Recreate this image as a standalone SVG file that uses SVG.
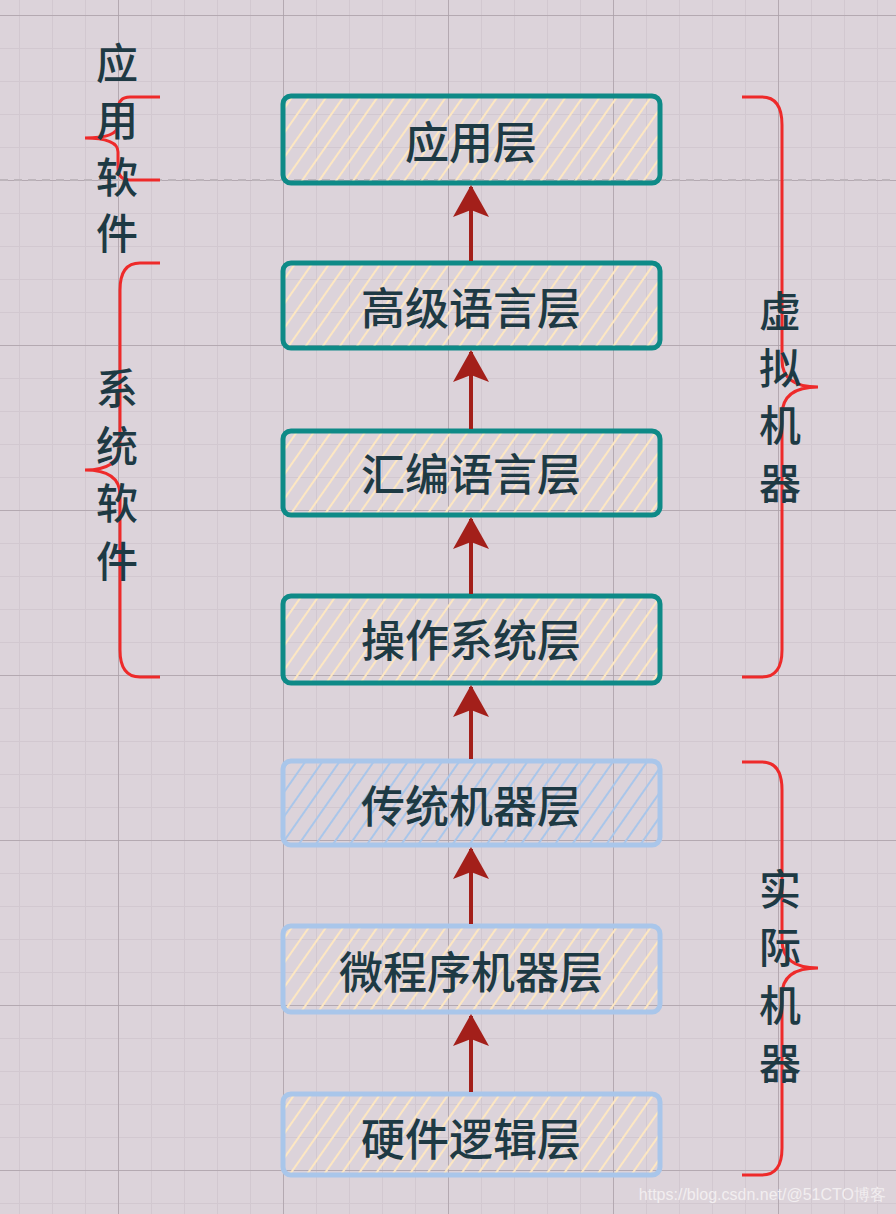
<svg xmlns="http://www.w3.org/2000/svg" width="896" height="1214" viewBox="0 0 896 1214">
<defs>
<pattern id="minor" width="33" height="33" patternUnits="userSpaceOnUse" x="118" y="15">
<path d="M0 0V33M0 0H33" stroke="#d2c8d0" stroke-width="2" fill="none"/>
</pattern>
<pattern id="major" width="165" height="165" patternUnits="userSpaceOnUse" x="118" y="15">
<path d="M0 0V165M0 0H165" stroke="#aaa0a8" stroke-width="1.5" fill="none"/>
</pattern>
<pattern id="hatch" width="14" height="14" patternUnits="userSpaceOnUse" patternTransform="rotate(35)">
<line x1="0" y1="0" x2="0" y2="14" stroke="#fde7c2" stroke-width="4"/>
</pattern>
<pattern id="hatchb" width="14" height="14" patternUnits="userSpaceOnUse" patternTransform="rotate(35)">
<line x1="0" y1="0" x2="0" y2="14" stroke="#a9c6ea" stroke-width="4"/>
</pattern>
<marker id="arr" viewBox="0 0 32 36" refX="30" refY="18" markerWidth="32" markerHeight="36" markerUnits="userSpaceOnUse" orient="auto">
<path d="M32 18L0 0L7 18L0 36Z" fill="#a31f1a"/>
</marker>
</defs>
<style>
.t{font-family:"Noto Sans CJK SC","Noto Sans",sans-serif;font-size:44px;font-weight:500;fill:#1e3a44;text-anchor:middle;dominant-baseline:central}
.s{font-family:"Noto Sans CJK SC","Noto Sans",sans-serif;font-size:42px;font-weight:500;fill:#1e3a44;text-anchor:middle;dominant-baseline:central}
.g rect{stroke:#0e8a87;stroke-width:5}
.b rect{stroke:#a9c6ea;stroke-width:5}
.br{fill:none;stroke:#ee2a2a;stroke-width:3}
</style>
<rect width="896" height="1214" fill="#dcd3da"/>
<rect width="896" height="1214" fill="url(#minor)"/>
<rect width="896" height="1214" fill="url(#major)"/>
<line x1="0" y1="180" x2="896" y2="180" stroke="#bdb5bb" stroke-width="2" stroke-dasharray="8 6"/>
<g id="n1" class="g"><rect x="283" y="96" width="377" height="87" rx="8" fill="url(#hatch)"/><text class="t" x="471" y="140">应用层</text></g>
<g id="n2" class="g"><rect x="283" y="263" width="377" height="85" rx="8" fill="url(#hatch)"/><text class="t" x="471" y="306">高级语言层</text></g>
<g id="n3" class="g"><rect x="283" y="431" width="377" height="84" rx="8" fill="url(#hatch)"/><text class="t" x="471" y="472">汇编语言层</text></g>
<g id="n4" class="g"><rect x="283" y="596" width="377" height="87" rx="8" fill="url(#hatch)"/><text class="t" x="471" y="638">操作系统层</text></g>
<g id="n5" class="b"><rect x="283" y="761" width="377" height="84" rx="8" fill="url(#hatchb)"/><text class="t" x="471" y="804">传统机器层</text></g>
<g id="n6" class="b"><rect x="283" y="926" width="377" height="86" rx="8" fill="url(#hatch)"/><text class="t" x="471" y="970">微程序机器层</text></g>
<g id="n7" class="b"><rect x="283" y="1094" width="377" height="81" rx="8" fill="url(#hatch)"/><text class="t" x="471" y="1137">硬件逻辑层</text></g>
<g id="connectors" stroke="#a31f1a" stroke-width="4" fill="none">
<line x1="471" y1="261" x2="471" y2="187" marker-end="url(#arr)"/>
<line x1="471" y1="429" x2="471" y2="352" marker-end="url(#arr)"/>
<line x1="471" y1="594" x2="471" y2="519" marker-end="url(#arr)"/>
<line x1="471" y1="759" x2="471" y2="687" marker-end="url(#arr)"/>
<line x1="471" y1="924" x2="471" y2="849" marker-end="url(#arr)"/>
<line x1="471" y1="1092" x2="471" y2="1016" marker-end="url(#arr)"/>
</g>
<g id="braces">
<path class="br" d="M160 97H130Q118 97 118 110V125Q118 138 85 138Q118 138 118 152V167Q118 180 130 180H160"/>
<path class="br" d="M160 263H140Q120 263 120 290V445Q120 470 85 470Q120 470 120 495V650Q120 677 140 677H160"/>
<path class="br" d="M742 97H762Q782 97 782 125V360Q782 387 818 387Q782 387 782 415V650Q782 677 762 677H742"/>
<path class="br" d="M742 762H762Q782 762 782 790V940Q782 968 818 968Q782 968 782 995V1148Q782 1175 762 1175H742"/>
</g>
<g id="labels">
<text class="s" x="117" y="60">应</text><text class="s" x="117" y="117">用</text><text class="s" x="117" y="174">软</text><text class="s" x="117" y="230">件</text>
<text class="s" x="117" y="385">系</text><text class="s" x="117" y="443">统</text><text class="s" x="117" y="500">软</text><text class="s" x="117" y="558">件</text>
<text class="s" x="780" y="308">虚</text><text class="s" x="780" y="365">拟</text><text class="s" x="780" y="422">机</text><text class="s" x="780" y="480">器</text>
<text class="s" x="780" y="886">实</text><text class="s" x="780" y="944">际</text><text class="s" x="780" y="1002">机</text><text class="s" x="780" y="1060">器</text>
</g>
<text x="886" y="1200" font-family="Liberation Sans,sans-serif" font-size="16" fill="#f2eef0" text-anchor="end">https://blog.csdn.net/@51CTO博客</text>
</svg>
